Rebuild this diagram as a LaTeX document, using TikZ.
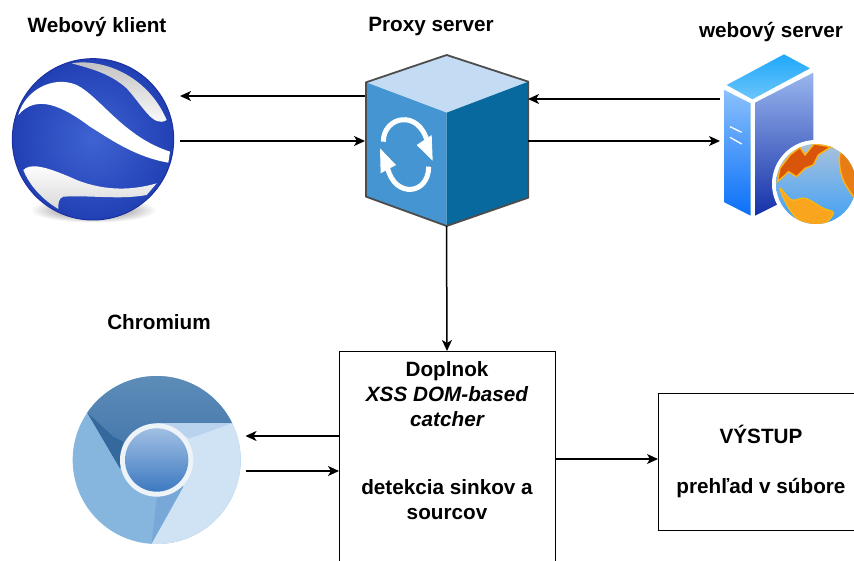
\documentclass[tikz,border=0pt]{standalone}
\usepackage{fontspec}
\setmainfont{Liberation Sans}
\usetikzlibrary{arrows.meta}
\definecolor{ballBlue}{HTML}{3F63D2}
\definecolor{ballEdge}{HTML}{2140B4}
\definecolor{ballLine}{HTML}{1B2FA0}
\definecolor{cubeTop}{HTML}{C3DCF3}
\definecolor{cubeLeft}{HTML}{4495D1}
\definecolor{cubeRight}{HTML}{07699E}
\definecolor{cubeLine}{HTML}{4D4D4D}
\definecolor{srvTopA}{HTML}{1FA8FA}
\definecolor{srvTopB}{HTML}{6CC5FA}
\definecolor{srvLeftA}{HTML}{8AC0FB}
\definecolor{srvLeftB}{HTML}{0A70F8}
\definecolor{srvRightA}{HTML}{99B6EE}
\definecolor{srvRightB}{HTML}{1531A8}
\definecolor{seaA}{HTML}{A8C1DC}
\definecolor{seaB}{HTML}{3FA0F6}
\definecolor{landA}{HTML}{D8550B}
\definecolor{landB}{HTML}{F9A51E}
\definecolor{landLine}{HTML}{FDB515}
\definecolor{chrTopA}{HTML}{5F8EB9}
\definecolor{chrTopB}{HTML}{3F72A8}
\definecolor{chrDark}{HTML}{35689D}
\definecolor{chrLeft}{HTML}{86B5DE}
\definecolor{chrRight}{HTML}{CFE3F5}
\definecolor{chrUpper}{HTML}{B9D3EF}
\definecolor{chrWedge}{HTML}{77A8D8}
\definecolor{chrRing}{HTML}{EEF3F8}
\definecolor{chrMidA}{HTML}{A0BFE3}
\definecolor{chrMidB}{HTML}{3D79C1}

\begin{document}
\begin{tikzpicture}[x=1pt, y=-1pt, >={Stealth[length=11pt, width=10pt, inset=3pt]},
    title/.style={font=\bfseries\fontsize{20.7}{25}\selectfont, inner sep=0pt},
    icon/.style={inner sep=0pt, outer sep=0pt},
    box/.style={draw, line width=0.9pt, fill=white, align=center, inner sep=0pt, outer sep=0pt, font=\bfseries\fontsize{20.7}{25}\selectfont},
    link/.style={->, line width=1.5pt},
    zoomed/.style={x=0.33333pt, y=-0.33333pt}]
    \clip (0,0) rectangle (854,561);
    % Titulky
    \node[title] (klientTitle) at (97,27) {Webový klient};
    \node[title] (proxyTitle) at (431,27) {Proxy server};
    \node[title] (serverTitle) at (771,32) {webový server};
    \node[title] (chromiumTitle) at (159,322) {Chromium};
    % Plochy ikon
    \node[icon, minimum width=168pt, minimum height=165pt] (klient) at (96,139) {};
    \node[icon, minimum width=163pt, minimum height=171pt] (proxy) at (446.5,140.5) {};
    \node[icon, minimum width=134pt, minimum height=175pt] (server) at (787,140) {};
    \node[icon, minimum width=178pt, minimum height=170pt] (chromium) at (156.5,453.5) {};
    % Webovy klient
    \begin{scope}[zoomed]
        \shade[inner color=black!60, outer color=white] (280,630) ellipse (190 and 38);
        \shade[inner color=ballBlue, outer color=ballEdge, draw=ballLine, line width=1pt] (279,418) circle (242);
        \fill[white] (55,345) .. controls (75,270) and (160,225) .. (230,255) .. controls (300,290) and (370,410) .. (510,455)
            -- (505,488) .. controls (400,470) and (320,410) .. (270,380) .. controls (190,320) and (110,280) .. (55,345) -- cycle;
        \shade[top color=black!25, bottom color=white] (215,190) .. controls (300,175) and (440,220) .. (500,360) .. controls (460,385) and (430,320) .. (380,265) .. controls (330,220) and (270,205) .. (215,190) -- cycle;
        \shade[top color=white, bottom color=black!15] (70,510) .. controls (90,490) and (130,495) .. (230,540) .. controls (320,575) and (400,570) .. (470,550)
            -- (440,585) .. controls (360,600) and (270,585) .. (190,590) .. controls (175,595) and (175,610) .. (175,627) .. controls (130,600) and (90,560) .. (70,510) -- cycle;
    \end{scope}
    % Proxy kocka
    \begin{scope}[shift={(340,30)}, zoomed]
        \fill[cubeTop] (320,75) -- (78,157) -- (320,248) -- (565,155) -- cycle;
        \fill[cubeLeft] (78,157) -- (320,248) -- (320,588) -- (78,500) -- cycle;
        \fill[cubeRight] (320,248) -- (565,155) -- (565,503) -- (320,588) -- cycle;
        \draw[cubeLine, line width=1.8pt, line join=round] (320,75) -- (78,157) -- (78,500) -- (320,588) -- (565,503) -- (565,155) -- cycle;
        \draw[white, line width=5pt] (130,335) .. controls (130,260) and (235,235) .. (262,335);
        \fill[white] (278,392) -- (230,345) -- (275,315) -- cycle;
        \draw[white, line width=5pt] (266,410) .. controls (266,495) and (165,505) .. (143,415);
        \fill[white] (120,355) -- (122,430) -- (168,405) -- cycle;
    \end{scope}
    % Webovy server
    \begin{scope}[shift={(690,40)}, zoomed]
        \shade[top color=srvTopA, bottom color=srvTopB] (282,43) -- (110,135) -- (187,178) -- (360,85) -- cycle;
        \shade[top color=srvLeftA, bottom color=srvLeftB] (103,150) -- (182,190) -- (182,527) -- (103,487) -- cycle;
        \shade[top color=srvRightA, bottom color=srvRightB] (195,188) -- (370,98) -- (370,440) -- (195,527) -- cycle;
        \draw[white, line width=1.3pt] (120,260) -- (155,277);
        \draw[white, line width=1.3pt] (120,292) -- (155,312);
        \fill[white] (378,432) circle (132);
        \begin{scope}
            \clip (378,432) circle (120);
            \shade[top color=seaA, bottom color=seaB] (378,432) circle (120);
            \filldraw[fill=landA, draw=landLine, line width=1.4pt] (262,425) -- (270,385) -- (300,345) -- (330,322) -- (345,345) -- (372,312) -- (450,325) -- (420,322) -- (385,345) -- (370,375) -- (345,385) -- (320,410) -- (295,395) -- (280,410) -- cycle;
            \filldraw[fill=landB, draw=landLine, line width=1.4pt] plot[smooth cycle, tension=0.6] coordinates {(270,445) (305,480) (345,475) (400,505) (430,520) (390,560) (340,550) (300,510)};
            \filldraw[fill=landA!50!landB, draw=landLine, line width=1.4pt] plot[smooth cycle, tension=0.6] coordinates {(455,335) (510,365) (510,480) (470,440) (450,385)};
        \end{scope}
    \end{scope}
    % Chromium
    \begin{scope}[shift={(60,370)}, zoomed]
        \begin{scope}
            \clip (290,270) circle (252);
            \fill[chrLeft] (0,0) rectangle (600,560);
            \shade[top color=chrTopA, bottom color=chrTopB] (82,128) -- (60,0) -- (530,0) -- (515,160) -- (290,160) -- (180,295) -- cycle;
            \fill[chrDark] (82,128) -- (180,295) -- (190,215) -- (160,200) -- cycle;
            \fill[chrRight] (515,160) -- (580,160) -- (580,560) -- (275,560) -- (275,520) -- (370,350) -- (290,160) -- cycle;
            \fill[chrUpper] (515,160) -- (290,160) -- (390,205) -- cycle;
            \fill[chrWedge] (275,520) -- (370,350) -- (290,385) -- cycle;
        \end{scope}
        \fill[chrRing] (290,270) circle (110);
        \shade[top color=chrMidA, bottom color=chrMidB] (290,270) circle (95);
    \end{scope}
    % Doplnok a vystup
    \node[box, anchor=north, minimum width=216pt] (plugin) at (447,351) {\rule{0pt}{25pt}Doplnok\\
        \itshape XSS DOM-based\\ \itshape catcher\\[43pt]
        detekcia sinkov a\\ sourcov\\[50pt] \mbox{}};
    \node[box, minimum width=206pt, minimum height=137pt] (vystup) at (761,461.5) {VÝSTUP\\[25pt] prehľad v súbore};
    % Spojnice
    \draw[link] ([yshift=44.5pt]proxy.west) -- ([yshift=43pt]klient.east);
    \draw[link] ([yshift=-2pt]klient.east) -- ([yshift=-0.5pt]proxy.west);
    \draw[link] ([yshift=41pt]server.west) -- ([yshift=41.5pt]proxy.east);
    \draw[link] ([yshift=-0.5pt]proxy.east) -- ([yshift=-1pt]server.west);
    \draw[link] (proxy.south) -- (plugin.north);
    \draw[link] ([yshift=-85pt]plugin.north west) -- ([yshift=17.5pt]chromium.east);
    \draw[link] ([yshift=-17.5pt]chromium.east) -- ([yshift=-120pt]plugin.north west);
    \draw[link] ([yshift=2.5pt]vystup.west -| plugin.east) -- ([yshift=2.5pt]vystup.west);
\end{tikzpicture}
\end{document}
